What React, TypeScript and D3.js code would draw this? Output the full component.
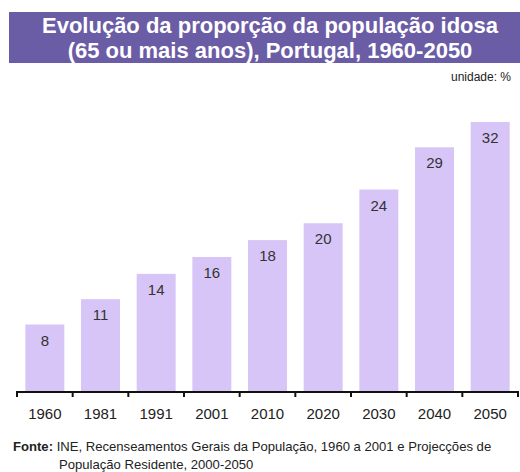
import React from "react";
import * as d3 from "d3";

const categories = ["1960", "1981", "1991", "2001", "2010", "2020", "2030", "2040", "2050"];
const values = [8, 11, 14, 16, 18, 20, 24, 29, 32];
const titleLines = ["Evolução da proporção da população idosa", "(65 ou mais anos), Portugal, 1960-2050"];

export default function App() {
  const W = 520, H = 472;
  const x = d3.scaleBand<string>().domain(categories).range([17, 518]).paddingInner(0.3).paddingOuter(0.15);
  const y = d3.scaleLinear().domain([0, 32]).range([392, 122]);
  const font = "'Liberation Sans', Arial, sans-serif";
  const ticks = d3.range(categories.length + 1).map(i => 17 + i * ((518 - 17) / categories.length));
  return (
    <svg width={W} height={H} style={{ position: "absolute", left: 0, top: 0, background: "#fff" }} fontFamily={font}>
      <rect x={9} y={12} width={511} height={51} fill="#6b5ca6" />
      {titleLines.map((t, i) => (
        <text key={i} x={270} y={33 + i * 25} textAnchor="middle" fill="#fff" fontWeight="bold" fontSize={22}>{t}</text>
      ))}
      <text x={511} y={81} textAnchor="end" fontSize={12} fill="#222">unidade: %</text>
      {categories.map((c, i) => (
        <g key={c}>
          <rect x={x(c)} y={y(values[i])} width={x.bandwidth()} height={y(0) - y(values[i])} fill="#d6c5f6" />
          <text x={(x(c) as number) + x.bandwidth() / 2} y={y(values[i]) + 21} textAnchor="middle" fontSize={15} fill="#333">{values[i]}</text>
          <text x={(x(c) as number) + x.bandwidth() / 2} y={419} textAnchor="middle" fontSize={15} fill="#222">{c}</text>
        </g>
      ))}
      <line x1={17} x2={518} y1={392} y2={392} stroke="#111" strokeWidth={2} />
      {ticks.map((t, i) => (
        <line key={i} x1={t} x2={t} y1={391} y2={397} stroke="#111" strokeWidth={2} />
      ))}
      <text x={13} y={451} fontSize={13.1} fill="#222"><tspan fontWeight="bold">Fonte:</tspan> INE, Recenseamentos Gerais da População, 1960 a 2001 e Projecções de</text>
      <text x={59} y={469} fontSize={13.1} fill="#222">População Residente, 2000-2050</text>
    </svg>
  );
}
